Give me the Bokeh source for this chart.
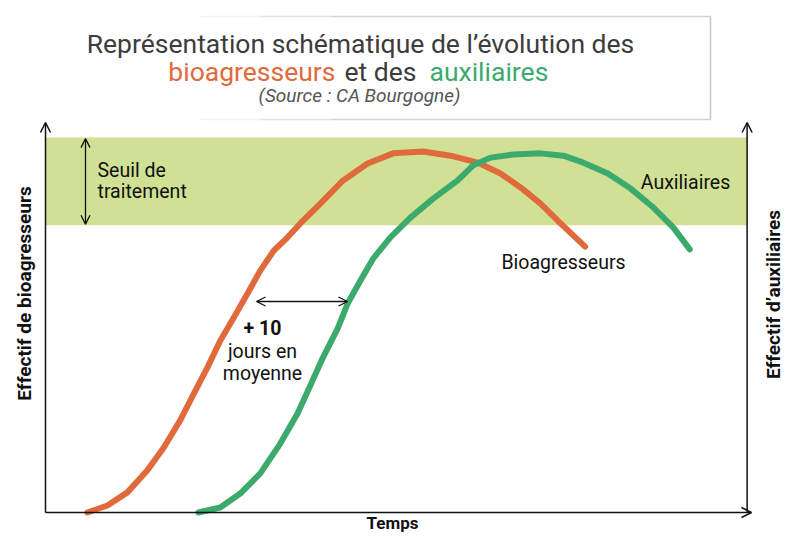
import math
from bokeh.plotting import figure
from bokeh.models import Range1d, Arrow, OpenHead
from bokeh.core.properties import value
from bokeh.embed import file_html
from bokeh.resources import INLINE

# ---------------- data ----------------
# Bioagresseurs : time (days) / effectif (% of axis height)
days_bio = [4.6, 6.8, 9.0, 11.2, 13.0, 14.8, 16.3, 17.8, 19.2, 20.7, 22.2, 23.6,
            25.1, 26.6, 28.0, 30.2, 32.7, 35.4, 38.2, 41.5, 44.5, 47.5, 50.0,
            52.2, 54.4, 56.6, 59.3]
eff_bio = [0.0, 1.8, 5.2, 10.9, 16.8, 23.8, 30.7, 37.5, 44.4, 50.4, 56.6, 62.5,
           67.7, 71.1, 74.7, 79.8, 85.8, 90.2, 92.8, 93.3, 92.2, 90.4, 87.6,
           84.0, 79.8, 74.7, 68.7]
# Auxiliaires
days_aux = [16.8, 19.2, 21.4, 23.6, 25.8, 27.7, 29.1, 30.5, 32.1, 33.2, 34.6, 36.0,
            37.9, 40.1, 42.6, 45.3, 47.0, 48.9, 51.4, 54.4, 56.9, 59.1, 61.8,
            64.3, 66.8, 69.0, 70.8]
eff_aux = [0.0, 1.3, 4.9, 10.1, 17.8, 25.6, 32.8, 40.1, 47.5, 54.0, 59.9, 65.6,
           71.1, 76.2, 81.1, 85.8, 89.7, 91.7, 92.5, 92.8, 92.2, 90.4, 87.6,
           83.7, 78.8, 73.6, 68.0]
# threshold band (seuil de traitement)
seuil_bas = 74.2
seuil_haut = 96.9
# lag between the two populations (days)
decalage_jours = 10
t_max = 77.1

# ---------------- layout helpers ----------------
W, H = 784, 533
PX_DAY = 9.1       # px per day
PX_PCT = 3.87      # px per % of effectif
OX, OY = 45, 512   # reference pixel of origin


def X(px):
    return (px - OX) / PX_DAY


def Y(py):
    return (OY - py) / PX_PCT


ORANGE = "#e06a3b"
GREEN = "#3daa6d"
BAND = "#d0e196"
DARK = "#111111"
TITLE = "#3c3c3c"
FONT = value("Roboto")

p = figure(width=W, height=H, output_backend="svg", toolbar_location=None,
           x_range=Range1d(X(0), X(W)), y_range=Range1d(Y(H), Y(0)),
           x_axis_type=None, y_axis_type=None, min_border=0,
           outline_line_color=None, background_fill_color="white")
p.grid.visible = False

# threshold band
p.quad(left=0, right=t_max, bottom=seuil_bas, top=seuil_haut,
       fill_color=BAND, line_color=None)

# title box (fading border to the left)
for x0, x1, col in [(X(200), X(260), "#f2f2f2"), (X(260), X(330), "#e4e4e4"),
                    (X(330), X(710), "#d4d4d4")]:
    p.segment(x0=[x0, x0], y0=[Y(16), Y(119)], x1=[x1, x1], y1=[Y(16), Y(119)],
              line_color=col, line_width=1.5)
p.segment(x0=X(710), y0=Y(16), x1=X(710), y1=Y(119), line_color="#c8c8c8",
          line_width=1.5)

# curves
p.line(days_bio, eff_bio, line_width=6, line_color=ORANGE,
       line_cap="round", line_join="round")
p.line(days_aux, eff_aux, line_width=6, line_color=GREEN,
       line_cap="round", line_join="round")

# axes drawn as arrows
for (xs, ys, xe, ye) in [(0, 0, 0, Y(122)), (0, 0, X(751), 0),
                         (t_max, 0, t_max, Y(122))]:
    p.add_layout(Arrow(x_start=xs, y_start=ys, x_end=xe, y_end=ye,
                       line_color=DARK, line_width=1.5,
                       end=OpenHead(size=10, line_color=DARK, line_width=1.5)))

# seuil double arrow
p.add_layout(Arrow(x_start=X(85), y_start=seuil_bas + 0.3, x_end=X(85), y_end=seuil_haut - 0.3,
                   line_color=DARK, line_width=1.3,
                   start=OpenHead(size=9, line_color=DARK, line_width=1.3),
                   end=OpenHead(size=9, line_color=DARK, line_width=1.3)))
# +10 days double arrow
y_arr = Y(301)
x_a0 = X(256)
p.add_layout(Arrow(x_start=x_a0, y_start=y_arr, x_end=x_a0 + decalage_jours, y_end=y_arr,
                   line_color=DARK, line_width=1.3,
                   start=OpenHead(size=9, line_color=DARK, line_width=1.3),
                   end=OpenHead(size=9, line_color=DARK, line_width=1.3)))


def txt(x, y, s, size, color=DARK, align="center", style="normal", angle=0.0):
    p.text(x=[x], y=[y], text=[s], text_font=FONT, text_font_size=size,
           text_color=color, text_align=align, text_baseline="middle",
           text_font_style=style, angle=angle)


# title
txt(X(360), Y(43), "Représentation schématique de l’évolution des", "26.5px", TITLE)
txt(X(335), Y(71), "bioagresseurs", "26.5px", ORANGE, align="right")
txt(X(380), Y(71), "et des", "26.5px", TITLE)
txt(X(429), Y(71), "auxiliaires", "26.5px", GREEN, align="left")
txt(X(359), Y(95), "(Source : CA Bourgogne)", "19px", "#555555", style="italic")

# labels
txt(X(97), Y(170), "Seuil de", "19.5px", align="left")
txt(X(97), Y(191), "traitement", "19.5px", align="left")
txt(X(262), Y(328), "+ 10", "19.5px", style="bold")
txt(X(262), Y(351), "jours en", "19.5px")
txt(X(262), Y(373), "moyenne", "19.5px")
txt(X(563), Y(262), "Bioagresseurs", "19.5px")
txt(X(685), Y(182), "Auxiliaires", "19.5px")

# axis titles
txt(X(392), Y(522), "Temps", "17px", style="bold")
txt(X(24), Y(293), "Effectif de bioagresseurs", "19px", style="bold", angle=math.pi / 2)
txt(X(773), Y(294), "Effectif d’auxiliaires", "19px", style="bold", angle=math.pi / 2)

open("out.html", "w").write(file_html(p, INLINE))
